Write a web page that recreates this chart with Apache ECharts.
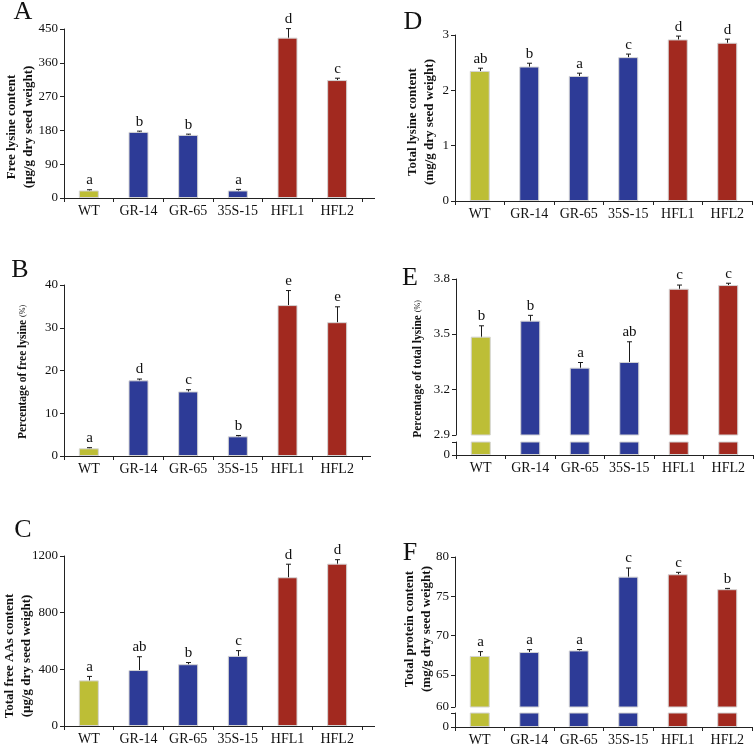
<!DOCTYPE html>
<html><head><meta charset="utf-8">
<script src="https://cdn.jsdelivr.net/npm/echarts@6/dist/echarts.min.js"></script>
<style>html,body{margin:0;padding:0;background:#fff}#c{width:755px;height:746px}</style>
</head><body><div id="c"></div>
<script>
// ---------- data ----------
const categories = ['WT', 'GR-14', 'GR-65', '35S-15', 'HFL1', 'HFL2'];
const barColors = ['#BDBE36', '#2D3B97', '#2D3B97', '#2D3B97', '#A2291F', '#A2291F'];

// A: free lysine content (µg/g)
const freeLys = [20, 176, 168, 20, 427, 314];
const freeLysErr = [2, 2, 2, 3, 24, 5];
const freeLysLetters = ['a', 'b', 'b', 'a', 'd', 'c'];
const ticksA = [0, 90, 180, 270, 360, 450];

// B: percentage of free lysine (%)
const pctFreeLys = [1.8, 17.7, 15.1, 4.6, 35.3, 31.3];
const pctFreeLysErr = [0.15, 0.3, 0.4, 0.2, 3.4, 3.6];
const pctFreeLysLetters = ['a', 'd', 'c', 'b', 'e', 'e'];
const ticksB = [0, 10, 20, 30, 40];

// C: total free AAs content (µg/g)
const totalFreeAA = [322, 395, 436, 495, 1050, 1146];
const totalFreeAAErr = [28, 94, 12, 37, 92, 28];
const totalFreeAALetters = ['a', 'ab', 'b', 'c', 'd', 'd'];
const ticksC = [0, 400, 800, 1200];

// D: total lysine content (mg/g)
const totalLys = [2.35, 2.43, 2.26, 2.60, 2.92, 2.86];
const totalLysErr = [0.05, 0.06, 0.05, 0.055, 0.06, 0.065];
const totalLysLetters = ['ab', 'b', 'a', 'c', 'd', 'd'];
const ticksD = [0, 1, 2, 3];

// E: percentage of total lysine (%) -- broken axis
const pctTotalLys = [3.486, 3.573, 3.317, 3.348, 3.747, 3.767];
const pctTotalLysErr = [0.059, 0.029, 0.028, 0.11, 0.02, 0.01];
const pctTotalLysLetters = ['b', 'b', 'a', 'ab', 'c', 'c'];
const ticksEValues = [2.95, 3.2, 3.5, 3.8];
const ticksELabels = ['2.9', '3.2', '3.5', '3.8'];
const breakE = 2.9;

// F: total protein content (mg/g) -- broken axis
const protein = [67.4, 67.9, 68.1, 77.5, 77.8, 75.9];
const proteinErr = [0.55, 0.3, 0.12, 1.1, 0.25, 0.1];
const proteinLetters = ['a', 'a', 'a', 'c', 'c', 'b'];
const ticksFValues = [60.9, 65, 70, 75, 80];
const ticksFLabels = ['60', '65', '70', '75', '80'];
const breakF = 60;

// ---------- helpers ----------
const SERIF = '"Liberation Serif", "Times New Roman", serif';
const AX = '#222';

const grids = [
  {left: 64, top: 29, width: 298, height: 169},   // 0 A
  {left: 64, top: 285, width: 298, height: 171},  // 1 B
  {left: 64, top: 556, width: 298, height: 170},  // 2 C
  {left: 455, top: 35, width: 297, height: 166},  // 3 D
  {left: 456, top: 279, width: 297, height: 156}, // 4 E upper
  {left: 456, top: 442, width: 297, height: 13},  // 5 E lower
  {left: 455, top: 557, width: 297, height: 150}, // 6 F upper
  {left: 455, top: 713, width: 297, height: 14}   // 7 F lower
].map(g => Object.assign({outerBoundsMode: 'none', containLabel: false}, g));

function xAxis(gi, show) {
  return {
    type: 'category', gridIndex: gi, data: categories, show: show,
    axisLine: {show: true, lineStyle: {color: AX, width: 1}},
    axisTick: {show: true, length: 4, lineStyle: {color: AX}},
    axisLabel: {interval: 0, margin: 6, fontFamily: SERIF, fontSize: 14, color: '#111'},
    splitLine: {show: false}
  };
}
function yAxis(gi, min, max, ticks, labels) {
  return {
    type: 'value', gridIndex: gi, min: min, max: max,
    axisLine: {show: true, lineStyle: {color: AX, width: 1}},
    axisTick: {show: true, length: 4, lineStyle: {color: AX}, customValues: ticks},
    axisLabel: {margin: 6, fontFamily: SERIF, fontSize: 13, color: '#111', customValues: ticks,
      formatter: v => {
        const k = ticks.findIndex(t => Math.abs(t - v) < 1e-6);
        if (labels) return k >= 0 ? labels[k] : '';
        return String(v);
      }},
    splitLine: {show: false}
  };
}

function barSeries(gi, values) {
  return {
    type: 'bar', xAxisIndex: gi, yAxisIndex: gi, barWidth: 20, clip: true,
    data: values.map((v, i) => ({value: v, itemStyle: {color: barColors[i]}})),
    itemStyle: {borderColor: '#d4d4d4', borderWidth: 1},
    emphasis: {disabled: true}, silent: true, animation: false
  };
}
function errSeries(gi, values, errs, letters) {
  return {
    type: 'custom', xAxisIndex: gi, yAxisIndex: gi, silent: true, animation: false, clip: false,
    data: values.map((v, i) => [i, v, errs[i]]),
    renderItem: function (params, api) {
      const i = api.value(0), v = api.value(1), e = api.value(2);
      const top = api.coord([i, v + e]);
      const bot = api.coord([i, v - e]);
      const x = Math.round(top[0]) + 0.5;
      const c = 2.5;
      const ls = {stroke: '#1a1a1a', lineWidth: 1};
      return {type: 'group', children: [
        {type: 'line', shape: {x1: x, y1: top[1], x2: x, y2: bot[1]}, style: ls},
        {type: 'line', shape: {x1: x - c, y1: top[1], x2: x + c, y2: top[1]}, style: ls},
        {type: 'line', shape: {x1: x - c, y1: bot[1], x2: x + c, y2: bot[1]}, style: ls},
        {type: 'text', style: {text: letters[params.dataIndex], x: x, y: top[1] - 2,
          align: 'center', verticalAlign: 'bottom', font: '15px ' + SERIF, fill: '#111'}}
      ]};
    }
  };
}

function vtext(x, y, text, size) {
  return {type: 'text', x: x, y: y, rotation: Math.PI / 2, silent: true,
    style: {text: text, align: 'center', verticalAlign: 'middle',
      font: 'bold ' + size + 'px ' + SERIF, lineHeight: 17, fill: '#111'}};
}
function vrich(x, y, main, small) {
  return {type: 'text', x: x, y: y, rotation: Math.PI / 2, silent: true,
    style: {text: '{a|' + main + ' }{b|' + small + '}', align: 'center', verticalAlign: 'middle',
      fill: '#111',
      rich: {a: {font: 'bold 11.5px ' + SERIF, fill: '#111'}, b: {font: '8px ' + SERIF, fill: '#111'}}}};
}
function letter(x, y, t) {
  return {type: 'text', x: x, y: y, silent: true,
    style: {text: t, align: 'center', verticalAlign: 'middle', font: '26px ' + SERIF, fill: '#111'}};
}
function extLine(x1, x2, y) {
  return {type: 'line', silent: true, shape: {x1: x1, y1: y + 0.5, x2: x2, y2: y + 0.5}, style: {stroke: AX, lineWidth: 1}};
}

const option = {
  backgroundColor: '#fff',
  animation: false,
  grid: grids,
  xAxis: [
    xAxis(0, true), xAxis(1, true), xAxis(2, true), xAxis(3, true),
    xAxis(4, false), xAxis(5, true), xAxis(6, false), xAxis(7, true)
  ],
  yAxis: [
    yAxis(0, 0, 450, ticksA),
    yAxis(1, 0, 40, ticksB),
    yAxis(2, 0, 1200, ticksC),
    yAxis(3, 0, 3, ticksD),
    yAxis(4, ticksEValues[0], 3.8, ticksEValues, ticksELabels),
    yAxis(5, 0, breakE, [0, breakE], ['0', '']),
    yAxis(6, ticksFValues[0], 80, ticksFValues, ticksFLabels),
    yAxis(7, 0, breakF, [0, breakF], ['0', ''])
  ],
  series: [
    barSeries(0, freeLys), errSeries(0, freeLys, freeLysErr, freeLysLetters),
    barSeries(1, pctFreeLys), errSeries(1, pctFreeLys, pctFreeLysErr, pctFreeLysLetters),
    barSeries(2, totalFreeAA), errSeries(2, totalFreeAA, totalFreeAAErr, totalFreeAALetters),
    barSeries(3, totalLys), errSeries(3, totalLys, totalLysErr, totalLysLetters),
    barSeries(4, pctTotalLys), errSeries(4, pctTotalLys, pctTotalLysErr, pctTotalLysLetters),
    barSeries(5, pctTotalLys),
    barSeries(6, protein), errSeries(6, protein, proteinErr, proteinLetters),
    barSeries(7, protein)
  ],
  graphic: [
    letter(23, 12, 'A'), letter(20, 270, 'B'), letter(23, 530, 'C'),
    letter(413, 22, 'D'), letter(410, 278, 'E'), letter(410, 553, 'F'),
    vtext(20, 127, 'Free lysine content\n(µg/g dry seed weight)', 13),
    vrich(23, 372, 'Percentage of free lysine', '(%)'),
    vtext(18, 656, 'Total free AAs content\n(µg/g dry seed weight)', 13),
    vtext(421, 122, 'Total lysine content\n(mg/g dry seed weight)', 13),
    vrich(418, 369, 'Percentage of total lysine', '(%)'),
    vtext(418, 629, 'Total protein content\n(mg/g dry seed weight)', 13),
    extLine(362, 375, 198), extLine(362, 371, 456), extLine(362, 375, 726)
  ]
};

const chart = echarts.init(document.getElementById('c'), null, {renderer: 'canvas'});
chart.setOption(option);
</script>
</body></html>
